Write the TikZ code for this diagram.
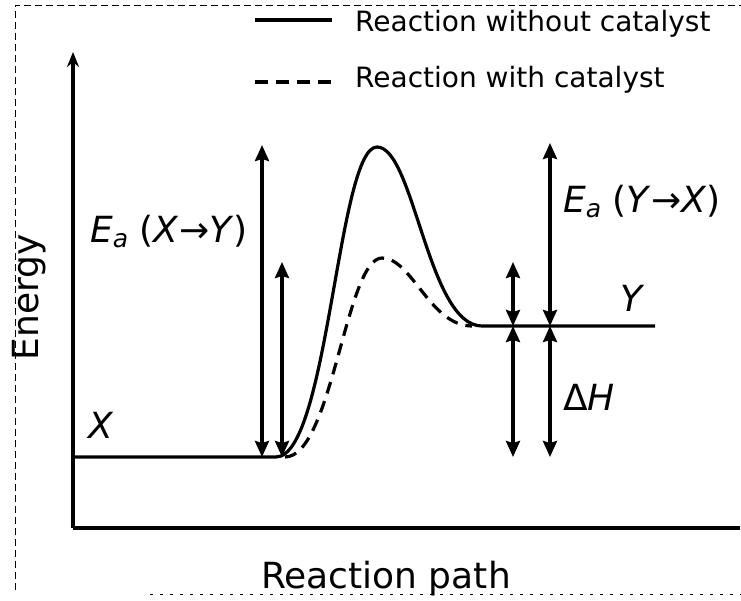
\documentclass[tikz,border=0pt]{standalone}
\usepackage{fontspec}
\setmainfont{DejaVu Sans}
\usetikzlibrary{arrows.meta}
\newcommand\subA{\raisebox{-5pt}{\fontsize{25}{25}\selectfont\textit{a}}}
\begin{document}
\begin{tikzpicture}[x=1pt,y=-1pt,
  curve/.style={line width=3.2pt, line join=round},
  dashcurve/.style={line width=3.2pt, dash pattern=on 12pt off 8pt},
  dblarrow/.style={line width=3.2pt, {Stealth[length=16pt,width=14pt,inset=2pt]}-{Stealth[length=16pt,width=14pt,inset=2pt]}},
  axisline/.style={line width=3.2pt},
  lbl/.style={font=\fontsize{36}{40}\selectfont, inner sep=0pt},
  leg/.style={font=\fontsize{28}{32}\selectfont, inner sep=0pt, anchor=base west},
  frameline/.style={line width=0.8pt, dash pattern=on 7pt off 4pt}]
\useasboundingbox (0,0) rectangle (741,601);
\fill[white] (0,0) rectangle (741,601);
% scan frame
\draw[frameline] (15,590) -- (15,5) -- (741,5);
\draw[line width=0.8pt, dash pattern=on 3pt off 7pt] (150,594) -- (741,594);
% axes
\coordinate (O) at (73,528);
\coordinate (ytop) at (73,52);
\coordinate (xend) at (740,528);
\draw[axisline, -{Stealth[length=15pt,width=12pt]}] (O) -- (ytop);
\draw[axisline] (O) -- (xend);
% curves
\draw[curve] (73,457) -- (276,457) .. controls (328,457) and (338,147) .. (377,147)
  .. controls (414,147) and (428,326) .. (482,326) -- (655,326);
\draw[dashcurve] (285,457) .. controls (332,457) and (346,258) .. (382,258)
  .. controls (412,258) and (430,326) .. (472,326);
% arrow end points
\coordinate (a1t) at (262,145); \coordinate (a1b) at (262,457);
\coordinate (a2t) at (282,262); \coordinate (a2b) at (282,457);
\coordinate (a3t) at (550,143); \coordinate (a3b) at (550,326);
\coordinate (a4t) at (513,262); \coordinate (a4b) at (513,326);
\coordinate (a5t) at (513,326); \coordinate (a5b) at (513,457);
\coordinate (a6t) at (550,326); \coordinate (a6b) at (550,457);
\draw[dblarrow] (a1t) -- (a1b);
\draw[dblarrow] (a2t) -- (a2b);
\draw[dblarrow] (a3t) -- (a3b);
\draw[dblarrow] (a4t) -- (a4b);
\draw[dblarrow] (a5t) -- (a5b);
\draw[dblarrow] (a6t) -- (a6b);
% labels
\node[lbl, anchor=base west] (eaxy) at (90,243) {\textit{E}\subA\ (\textit{X}→\textit{Y})};
\node[lbl, anchor=base west] (eayx) at (563,213) {\textit{E}\subA\ (\textit{Y}→\textit{X})};
\node[lbl, anchor=base west] (lx) at (88,438) {\textit{X}};
\node[lbl, anchor=base west] (ly) at (620,312) {\textit{Y}};
\node[lbl, anchor=base west] (dh) at (563,410) {Δ\textit{H}};
\node[lbl, anchor=base, rotate=90] (energy) at (38,297) {Energy};
\node[lbl, anchor=base] (rpath) at (386,588) {Reaction path};
% legend
\coordinate (l1a) at (255,20); \coordinate (l1b) at (332,20);
\coordinate (l2a) at (255,82); \coordinate (l2b) at (335,82);
\draw[curve] (l1a) -- (l1b);
\draw[line width=3.2pt, dash pattern=on 13pt off 8pt] (l2a) -- (l2b);
\node[leg] (leg1) at (355,32) {Reaction without catalyst};
\node[leg] (leg2) at (355,88) {Reaction with catalyst};
\end{tikzpicture}
\end{document}
